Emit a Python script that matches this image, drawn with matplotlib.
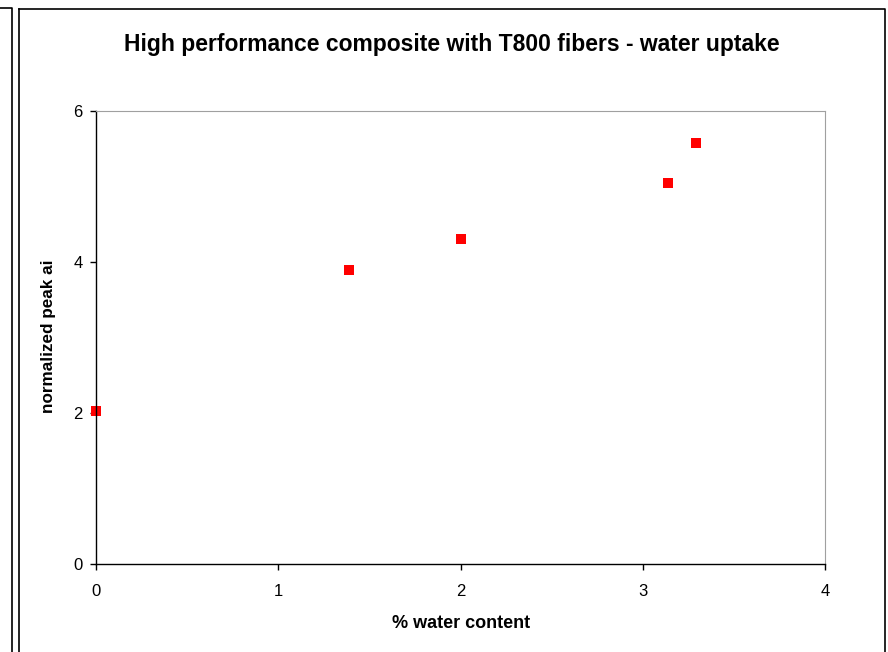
import matplotlib
matplotlib.use("Agg")
import matplotlib.pyplot as plt
from matplotlib.lines import Line2D

water_content = [0.0, 1.39, 2.0, 3.14, 3.29]
peak_area = [2.02, 3.9, 4.3, 5.04, 5.57]
x_ticks = [0, 1, 2, 3, 4]
y_ticks = [0, 2, 4, 6]

plt.rcParams['font.family'] = ['Liberation Sans', 'DejaVu Sans']

W, H = 888, 652
fig = plt.figure(figsize=(W / 100, H / 100), dpi=100)

def fx(px):
    return px / W

def fy(py):
    return 1 - py / H

# outer frames
fig.add_artist(Line2D([fx(19), fx(885), fx(885)], [fy(9), fy(9), fy(660)], color='black', lw=1.2, transform=fig.transFigure))
fig.add_artist(Line2D([fx(19), fx(19)], [fy(9), fy(660)], color='black', lw=1.2, transform=fig.transFigure))
fig.add_artist(Line2D([fx(-5), fx(12), fx(12)], [fy(8), fy(8), fy(660)], color='black', lw=1.2, transform=fig.transFigure))

ax = fig.add_axes([fx(96), fy(564), fx(825) - fx(96), fy(111) - fy(564)])
ax.plot(water_content, peak_area, 's', color='#ff0000', markersize=7.2, markeredgewidth=0, clip_on=False)
ax.set_xlim(0, 4)
ax.set_ylim(0, 6)
ax.set_xticks(x_ticks)
ax.set_yticks(y_ticks)
ax.tick_params(axis='both', direction='out', length=4.5, width=1, labelsize=12)
ax.tick_params(axis='x', pad=10)
ax.tick_params(axis='y', pad=5)
for s in ['top', 'right']:
    ax.spines[s].set_color('#a0a0a0')
for s in ['left', 'bottom']:
    ax.spines[s].set_color('black')
    ax.spines[s].set_linewidth(1)

fig.text(fx(452), fy(45), 'High performance composite with T800 fibers - water uptake',
         ha='center', va='center', fontsize=16.5, fontweight='bold')
fig.text(fx(461), fy(623), '% water content', ha='center', va='center', fontsize=13, fontweight='bold')
fig.text(fx(48), fy(336), 'normalized peak ai', ha='center', va='center', rotation=90, fontsize=12.3, fontweight='bold')

fig.savefig('out.png', dpi=100)
